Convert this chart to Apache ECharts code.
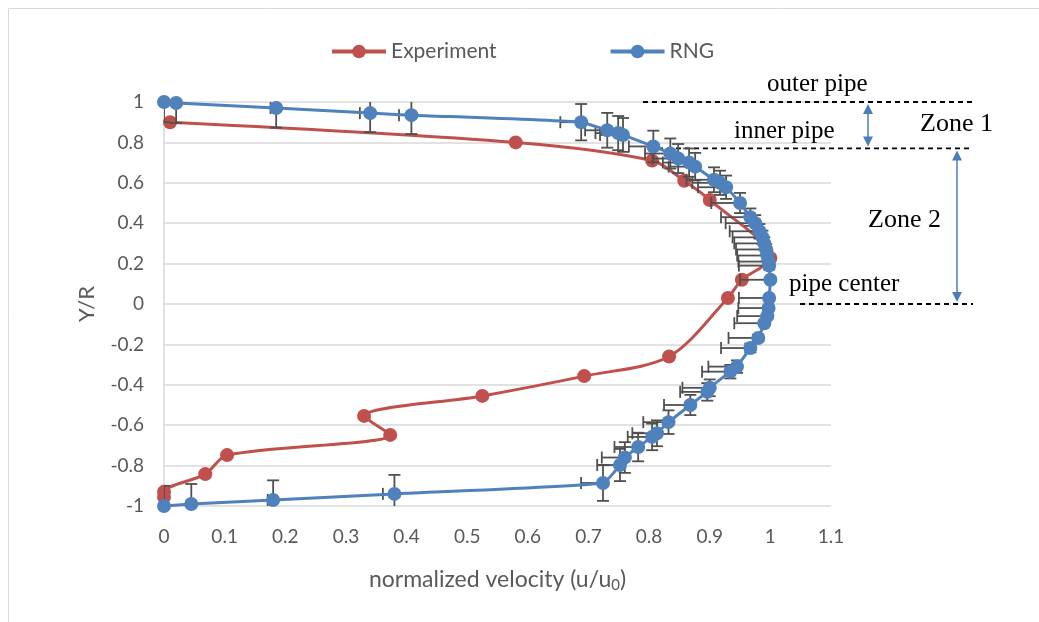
<!DOCTYPE html>
<html>
<head>
<meta charset="utf-8">
<script src="https://cdn.jsdelivr.net/npm/echarts@6/dist/echarts.min.js"></script>
<style>
  html, body { margin: 0; padding: 0; background: #ffffff; }
  #chart { width: 1039px; height: 622px; }
</style>
</head>
<body>
<div id="chart"></div>
<script>
// Measured velocity profile (u/u0) against radial position (Y/R)
const expVelocity = [0.01, 0.58, 0.805, 0.858, 0.90, 1.0, 0.953, 0.93, 0.833, 0.693, 0.525, 0.33, 0.373, 0.104, 0.068, 0.0, 0.0];
const expPosition = [0.90, 0.80, 0.71, 0.61, 0.515, 0.228, 0.12, 0.03, -0.26, -0.357, -0.455, -0.554, -0.648, -0.748, -0.842, -0.93, -0.955];

// RNG k-epsilon model prediction
const rngVelocity = [
  0.0, 0.02, 0.185, 0.34, 0.408, 0.688, 0.731, 0.749, 0.757, 0.807,
  0.835, 0.848, 0.866, 0.876, 0.907, 0.917, 0.927, 0.95, 0.967, 0.975,
  0.982, 0.987, 0.990, 0.993, 0.995, 0.997, 0.998, 1.0, 0.998, 0.997,
  0.995, 0.99, 0.98, 0.967, 0.945, 0.934, 0.90, 0.896, 0.868, 0.832,
  0.813, 0.805, 0.782, 0.76, 0.752, 0.724, 0.38, 0.18, 0.045, 0.0
];
const rngPosition = [
  1.0, 0.995, 0.97, 0.945, 0.935, 0.90, 0.86, 0.846, 0.837, 0.78,
  0.745, 0.72, 0.70, 0.68, 0.615, 0.60, 0.578, 0.50, 0.43, 0.40,
  0.36, 0.33, 0.30, 0.27, 0.24, 0.21, 0.19, 0.12, 0.03, -0.02,
  -0.06, -0.095, -0.168, -0.218, -0.31, -0.335, -0.415, -0.435, -0.50, -0.585,
  -0.64, -0.658, -0.708, -0.76, -0.797, -0.886, -0.94, -0.97, -0.99, -1.0
];

// Percentage error bars on the model curve
const rngVelErrFrac = 0.05;   // velocity, minus side only
const rngPosErrFrac = 0.10;   // position, both sides

// Zone boundaries (Y/R)
const outerWallY = 1.0;
const innerWallY = 0.77;
const centerY = 0.0;

const RED = '#C0504D';
const BLUE = '#4F81BD';
const AXIS_TEXT = '#595959';
const SANS = 'Lato, "Noto Sans", sans-serif';

const zip = (xs, ys) => xs.map((v, i) => [v, ys[i]]);
const fmt = v => String(Math.round(v * 10) / 10);

const chart = echarts.init(document.getElementById('chart'), null, { renderer: 'canvas' });

const errStyle = { stroke: '#505050', lineWidth: 1.8, fill: null };

chart.setOption({
  animation: false,
  backgroundColor: '#ffffff',
  textStyle: { fontFamily: SANS },
  legend: {
    top: 36,
    left: 325,
    itemWidth: 54,
    itemHeight: 17,
    itemGap: 112,
    lineStyle: { width: 4 },
    textStyle: { color: AXIS_TEXT, fontSize: 21, fontFamily: SANS },
    data: ['Experiment', 'RNG']
  },
  grid: { left: 164, right: 208, top: 102, bottom: 116, containLabel: false },
  xAxis: {
    type: 'value',
    min: 0, max: 1.1, interval: 0.1,
    name: 'normalized velocity (u/u{sub|0})',
    nameLocation: 'middle',
    nameGap: 60,
    nameTextStyle: {
      color: AXIS_TEXT, fontSize: 23, fontFamily: SANS,
      rich: { sub: { fontSize: 15, color: AXIS_TEXT, fontFamily: SANS, padding: [12, 0, 0, 0] } }
    },
    axisLine: { show: false },
    axisTick: { show: false },
    splitLine: { show: false },
    axisLabel: { color: AXIS_TEXT, fontSize: 19, margin: 21, formatter: fmt }
  },
  yAxis: {
    type: 'value',
    min: -1, max: 1, interval: 0.2,
    name: 'Y/R',
    nameLocation: 'middle',
    nameGap: 66,
    nameTextStyle: { color: AXIS_TEXT, fontSize: 22, fontFamily: SANS },
    axisLine: { show: true, onZero: false, lineStyle: { color: '#d9d9d9', width: 1.5 } },
    axisTick: { show: false },
    splitLine: { show: true, lineStyle: { color: '#d9d9d9', width: 1.5 } },
    axisLabel: { color: AXIS_TEXT, fontSize: 19, margin: 20, formatter: fmt }
  },
  series: [
    {
      name: 'Experiment',
      type: 'line',
      data: zip(expVelocity, expPosition),
      smooth: 0.3,
      symbol: 'circle',
      symbolSize: 14,
      color: RED,
      lineStyle: { color: RED, width: 3 },
      itemStyle: { color: RED },
      z: 2
    },
    {
      name: 'RNG error',
      type: 'custom',
      clip: true,
      data: zip(rngVelocity, rngPosition),
      z: 3,
      renderItem(params, api) {
        const x = api.value(0), y = api.value(1);
        const p = api.coord([x, y]);
        const xl = api.coord([x * (1 - rngVelErrFrac), y]);
        const yt = api.coord([x, y + Math.abs(y) * rngPosErrFrac]);
        const yb = api.coord([x, y - Math.abs(y) * rngPosErrFrac]);
        const cap = 6;
        return {
          type: 'group',
          children: [
            { type: 'line', shape: { x1: xl[0], y1: p[1], x2: p[0], y2: p[1] }, style: errStyle },
            { type: 'line', shape: { x1: xl[0], y1: p[1] - cap, x2: xl[0], y2: p[1] + cap }, style: errStyle },
            { type: 'line', shape: { x1: p[0], y1: yt[1], x2: p[0], y2: yb[1] }, style: errStyle },
            { type: 'line', shape: { x1: p[0] - cap, y1: yt[1], x2: p[0] + cap, y2: yt[1] }, style: errStyle },
            { type: 'line', shape: { x1: p[0] - cap, y1: yb[1], x2: p[0] + cap, y2: yb[1] }, style: errStyle }
          ]
        };
      }
    },
    {
      name: 'RNG',
      type: 'line',
      data: zip(rngVelocity, rngPosition),
      smooth: 0.15,
      symbol: 'circle',
      symbolSize: 14,
      color: BLUE,
      lineStyle: { color: BLUE, width: 3 },
      itemStyle: { color: BLUE },
      z: 4
    }
  ]
});

// Zone annotations to the right of the profile
const py = v => chart.convertToPixel({ yAxisIndex: 0 }, v);
const yOuter = py(outerWallY), yInner = py(innerWallY), yCenter = py(centerY);
const dash = { stroke: '#000000', lineWidth: 1.8, lineDash: [5, 4] };
const serif = '"Liberation Serif", "DejaVu Serif", serif';
const ARROW = '#4a7ebb';

function doubleArrow(x, y1, y2) {
  const h = 10, w = 5;
  return [
    { type: 'line', shape: { x1: x, y1: y1 + h - 2, x2: x, y2: y2 - h + 2 }, style: { stroke: ARROW, lineWidth: 1.5 } },
    { type: 'polygon', shape: { points: [[x, y1], [x - w, y1 + h], [x + w, y1 + h]] }, style: { fill: ARROW } },
    { type: 'polygon', shape: { points: [[x, y2], [x - w, y2 - h], [x + w, y2 - h]] }, style: { fill: ARROW } }
  ];
}

function label(text, x, y, size) {
  return { type: 'text', x, y, style: { text, fill: '#000000', font: size + 'px ' + serif, textAlign: 'left', textVerticalAlign: 'middle' } };
}

chart.setOption({
  graphic: [
    { type: 'line', shape: { x1: 8.5, y1: 8.5, x2: 1039, y2: 8.5 }, style: { stroke: '#d9d9d9', lineWidth: 1 } },
    { type: 'line', shape: { x1: 8.5, y1: 8.5, x2: 8.5, y2: 622 }, style: { stroke: '#d9d9d9', lineWidth: 1 } },
    { type: 'line', shape: { x1: 643, y1: yOuter, x2: 973, y2: yOuter }, style: dash },
    { type: 'line', shape: { x1: 658, y1: yInner, x2: 973, y2: yInner }, style: dash },
    { type: 'line', shape: { x1: 800, y1: yCenter, x2: 973, y2: yCenter }, style: dash },
    ...doubleArrow(868, yOuter + 2, yInner - 2),
    ...doubleArrow(957, yInner + 2, yCenter - 2),
    label('outer pipe', 767, 84, 25),
    label('inner pipe', 734, 131, 25),
    label('Zone 1', 920, 124, 26),
    label('Zone 2', 868, 220, 26),
    label('pipe center', 789, 284, 25)
  ]
});
</script>
</body>
</html>
